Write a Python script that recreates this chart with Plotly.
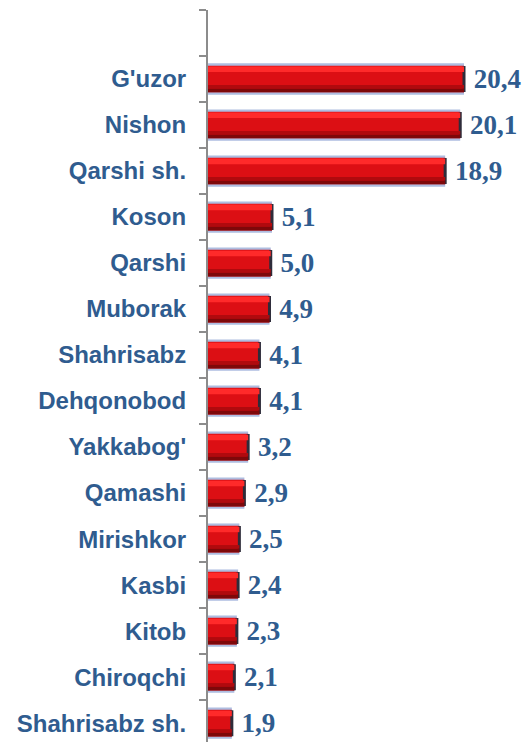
import plotly.graph_objects as go

categories = ["G'uzor", "Nishon", "Qarshi sh.", "Koson", "Qarshi", "Muborak",
              "Shahrisabz", "Dehqonobod", "Yakkabog'", "Qamashi", "Mirishkor",
              "Kasbi", "Kitob", "Chiroqchi", "Shahrisabz sh."]
values = [20.4, 20.1, 18.9, 5.1, 5.0, 4.9, 4.1, 4.1, 3.2, 2.9, 2.5, 2.4, 2.3, 2.1, 1.9]
value_labels = ["\u00a0" + f"{v:.1f}".replace(".", ",") for v in values]

placeholder = "\u200b"
cat_order = [placeholder] + categories

TXT = "#2f5c8f"

fig = go.Figure()
# outer soft bluish outline
fig.add_trace(go.Bar(y=categories, x=values, orientation="h", width=0.68,
                     marker=dict(color="#aebde0", line=dict(width=0)),
                     hoverinfo="skip", showlegend=False))
# main red body
fig.add_trace(go.Bar(y=categories, x=values, orientation="h", width=0.58,
                     marker=dict(color="#dc0f14", line=dict(width=0)),
                     showlegend=False,
                     error_x=dict(type="data", array=[0] * len(values), width=13,
                                  thickness=3, color="#2e2c3a")))
# top highlight
fig.add_trace(go.Bar(y=categories, x=values, orientation="h", width=0.12, offset=-0.27,
                     marker=dict(color="#ff2a2a", line=dict(width=0)),
                     hoverinfo="skip", showlegend=False))
# lower shade
fig.add_trace(go.Bar(y=categories, x=values, orientation="h", width=0.08, offset=0.13,
                     marker=dict(color="#b00a0e", line=dict(width=0)),
                     hoverinfo="skip", showlegend=False))
# bottom darkest shade
fig.add_trace(go.Bar(y=categories, x=values, orientation="h", width=0.08, offset=0.21,
                     marker=dict(color="#7e080a", line=dict(width=0)),
                     hoverinfo="skip", showlegend=False))
# value labels
fig.add_trace(go.Bar(y=categories, x=values, orientation="h", width=0.58,
                     marker=dict(color="rgba(0,0,0,0)", line=dict(width=0)),
                     hoverinfo="skip", showlegend=False,
                     text=value_labels, textposition="outside", cliponaxis=False,
                     constraintext="none",
                     textfont=dict(family="Liberation Serif", size=27, color=TXT,
                                   weight="bold")))

fig.update_layout(
    width=529, height=742,
    margin=dict(l=208, r=0, t=10, b=0, autoexpand=False),
    paper_bgcolor="white", plot_bgcolor="white",
    barmode="overlay",
    xaxis=dict(range=[0, 25.58], visible=False, showgrid=False, zeroline=False,
               automargin=False),
    yaxis=dict(type="category", categoryorder="array", categoryarray=cat_order,
               range=[15.41, -0.5], autorange=False, automargin=False,
               showline=True, linecolor="#8c8c8c", linewidth=2,
               ticks="outside", ticklen=7, tickcolor="#8c8c8c", tickwidth=1.5,
               tickson="boundaries", showgrid=False, zeroline=False,
               ticklabelstandoff=15,
               tickfont=dict(family="Liberation Sans", size=24, color=TXT,
                             weight="bold")),
)

fig.write_html(
    "out.html",
    config={"displayModeBar": False},
    post_script="document.body.style.margin='0';document.body.style.overflow='hidden';",
)
